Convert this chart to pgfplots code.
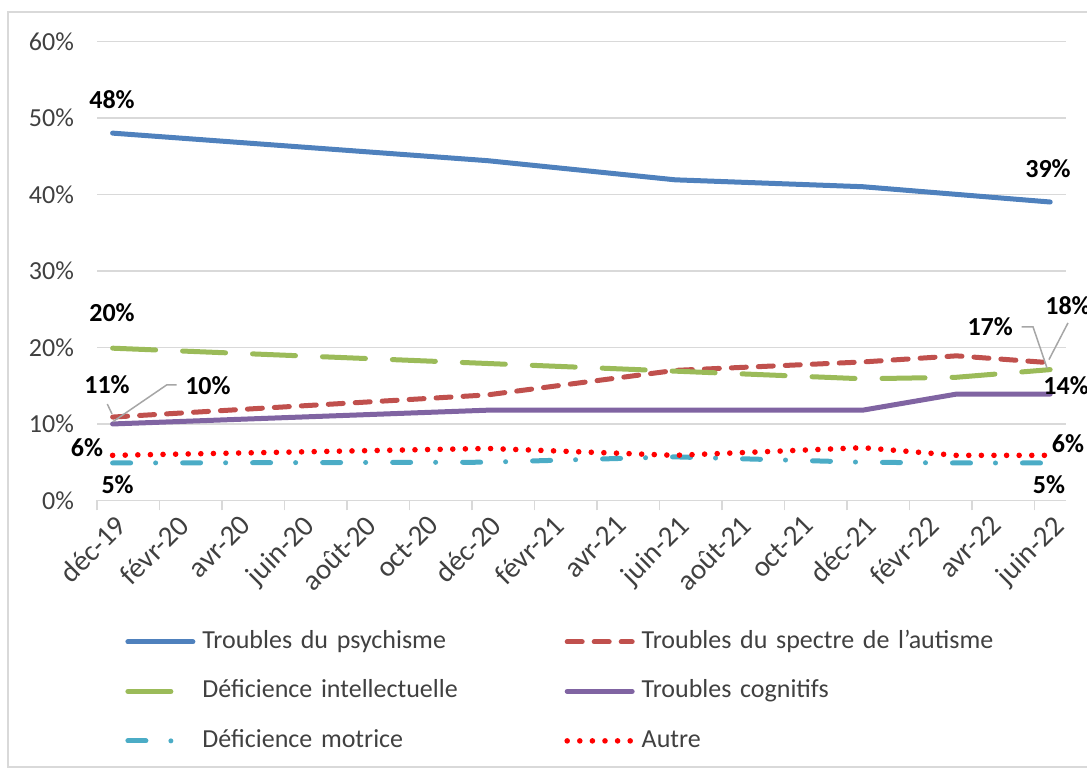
\documentclass[border=0pt]{standalone}
\usepackage{fontspec}
\setmainfont{Carlito}
\usepackage{pgfplots}
\pgfplotsset{compat=1.18}

\definecolor{cPsy}{HTML}{4F81BD}
\definecolor{cAut}{HTML}{C0504D}
\definecolor{cInt}{HTML}{9BBB59}
\definecolor{cCog}{HTML}{8064A2}
\definecolor{cMot}{HTML}{4BACC6}
\definecolor{cAutre}{HTML}{FF0000}
\definecolor{gridgray}{HTML}{D9D9D9}
\definecolor{labelgray}{HTML}{404040}
\definecolor{leadergray}{HTML}{A6A6A6}

% months counted from dec-2019 (0) to jun-2022 (30)
\pgfplotstableread{
x   psy   aut   int   cog   mot   autre
0   48.0  10.9  19.9  10.0  4.9   5.9
12  44.4  13.8  17.9  11.8  5.0   6.8
18  41.9  17.0  16.9  11.8  5.7   5.9
24  41.0  18.1  15.9  11.8  5.0   6.9
27  40.0  18.9  16.1  13.9  4.9   5.9
30  39.0  18.0  17.1  13.9  4.9   5.9
}\data

\begin{document}
\begin{tikzpicture}
\useasboundingbox (0,0) rectangle (543.5pt,384.5pt);
\draw[gridgray, line width=1pt] (4pt,1pt) rectangle (560pt,378.5pt);
\begin{axis}[
  at={(48.5pt,134.25pt)}, anchor=south west,
  scale only axis, width=484.4pt, height=229.6pt,
  xmin=-0.5, xmax=30.5, ymin=0, ymax=60,
  axis x line*=bottom, axis y line*=left,
  x axis line style={draw=gridgray, line width=0.75pt, -},
  y axis line style={draw=none},
  xtick={0,2,...,30},
  xticklabels={déc-19,févr-20,avr-20,juin-20,août-20,oct-20,déc-20,févr-21,avr-21,juin-21,août-21,oct-21,déc-21,févr-22,avr-22,juin-22},
  minor xtick={-0.5,1.5,...,29.5},
  major tick length=0pt, minor tick length=5pt, tick align=outside,
  tick style={draw=gridgray, line width=0.75pt},
  ytick={0,10,...,60},
  yticklabels={0\%,10\%,20\%,30\%,40\%,50\%,60\%},
  ymajorgrids, grid style={draw=gridgray, line width=0.75pt},
  tick label style={font=\fontsize{13}{15}\selectfont, text=labelgray},
  x tick label style={font=\fontsize{14.5}{16}\selectfont, rotate=45, anchor=north east,
    inner sep=1pt, xshift=-3pt, yshift=-4pt},
  yticklabel style={xshift=-8pt},
  clip=false,
  legend columns=2,
  legend cell align=left,
  legend style={draw=none, fill=none, at={(axis description cs:0.0289,-0.2798)},
    anchor=north west, inner sep=0pt, column sep=0pt, row sep=12.25pt,
    font=\fontsize{13}{15}\selectfont, text=labelgray,
    nodes={inner sep=0pt, text height=9.5pt, text depth=3pt, text width=181pt, align=left}},
  legend image code/.code={
    \draw[#1] (1.25pt,0pt) -- (33.75pt,0pt);
    \path[draw=none] (0pt,0pt) -- (38.5pt,0pt);},
]
\addplot[cPsy, line width=2.5pt, line cap=round, line join=round] table[x=x,y=psy] {\data};
\addlegendentry{Troubles du psychisme}
\addplot[cAut, line width=2.5pt, line cap=round, dash pattern=on 7.5pt off 6pt] table[x=x,y=aut] {\data};
\addlegendentry{Troubles du spectre de l'autisme}
\addplot[cInt, line width=2.5pt, line cap=round, dash pattern=on 21.5pt off 13.5pt] table[x=x,y=int] {\data};
\addlegendentry{Déficience intellectuelle}
\addplot[cCog, line width=2.5pt, line cap=round, line join=round] table[x=x,y=cog] {\data};
\addlegendentry{Troubles cognitifs}
\addplot[cMot, line width=2.5pt, line cap=round, dash pattern=on 9pt off 12.5pt on 0pt off 13.5pt] table[x=x,y=mot] {\data};
\addlegendentry{Déficience motrice}
\addplot[cAutre, line width=2.8pt, line cap=round, dash pattern=on 0pt off 6.3pt] table[x=x,y=autre] {\data};
\addlegendentry{Autre}

% data labels
\begin{scope}[every node/.style={font=\fontsize{13}{15}\selectfont\bfseries, inner sep=0pt}]
\node at (axis cs:-0.02,52.35) {48\%};
\node at (axis cs:29.93,43.3) {39\%};
\node at (axis cs:-0.02,24.5) {20\%};
\node at (axis cs:-0.18,15.2) {11\%};
\node at (axis cs:3.05,15.0) {10\%};
\node at (axis cs:-0.82,6.93) {6\%};
\node at (axis cs:0.16,2.03) {5\%};
\node at (axis cs:28.08,22.7) {17\%};
\node at (axis cs:30.57,25.4) {18\%};
\node at (axis cs:30.51,15.0) {14\%};
\node at (axis cs:30.57,7.4) {6\%};
\node at (axis cs:29.96,2.03) {5\%};
\end{scope}
\begin{scope}[leadergray, line width=0.75pt]
\draw (axis cs:-0.17,12.6) -- (axis cs:-0.02,11.3);
\draw (axis cs:2.05,15.1) -- (axis cs:1.73,15.1) -- (axis cs:0.01,10.3);
\draw (axis cs:29.09,22.7) -- (axis cs:29.45,22.7) -- (axis cs:29.9,17.3);
\draw (axis cs:30.57,23.2) -- (axis cs:29.96,18.4);
\end{scope}
\end{axis}
\end{tikzpicture}
\end{document}
